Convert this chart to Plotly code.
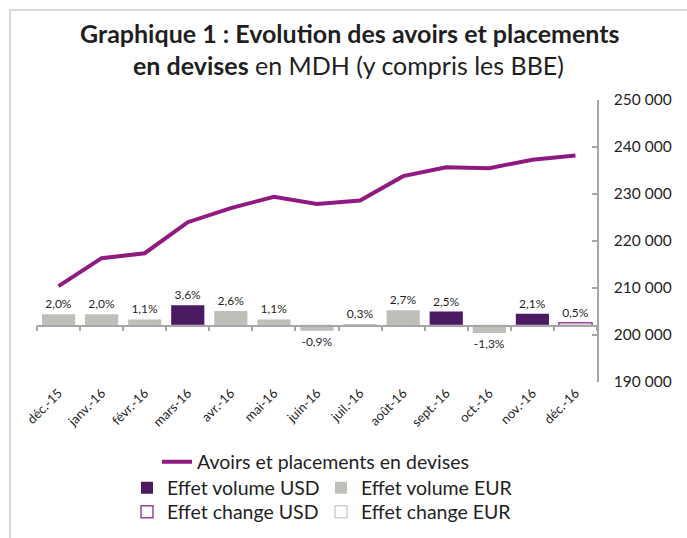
import plotly.graph_objects as go

categories = ["déc.-15", "janv.-16", "févr.-16", "mars-16", "avr.-16", "mai-16", "juin-16",
              "juil.-16", "août-16", "sept.-16", "oct.-16", "nov.-16", "déc.-16"]
avoirs = [210400, 216350, 217400, 224000, 227000, 229400, 227900,
          228600, 233800, 235700, 235500, 237300, 238200]
volume_usd = [None, None, None, 3.6, None, None, None, None, None, 2.5, None, 2.1, None]
volume_eur = [2.0, 2.0, 1.1, None, 2.6, 1.1, -0.9, 0.3, 2.7, None, -1.3, None, None]
change_usd = [None, None, None, None, None, None, None, None, None, None, None, None, 0.5]
change_eur = [None] * 13
y_ticks = [190000, 200000, 210000, 220000, 230000, 240000, 250000]

W, H = 687, 538
L, R, T, B = 37, 597, 100, 382
def px_x(x):
    return (x - L) / (R - L)
def px_y(y):
    return (B - y) / (B - T)

def fmt(vals):
    return ["" if v is None else (f"{v:.1f}".replace(".", ",") + "%") for v in vals]

FONT = "Lato"
TXT = "#1f1f1f"
LINE_C = "#911A80"
USD_C = "#4B1A63"
EUR_C = "#BFBEB8"

fig = go.Figure()
fig.add_trace(go.Scatter(x=categories, y=avoirs, mode="lines", name="Avoirs et placements en devises",
                         line=dict(color=LINE_C, width=4), xaxis="x", yaxis="y", legend="legend",
                         showlegend=True))

bar_common = dict(xaxis="x2", yaxis="y2", textposition="outside", cliponaxis=False,
                  constraintext="none", textfont=dict(size=12, color=TXT, family=FONT), showlegend=True)
fig.add_trace(go.Bar(x=categories, y=volume_usd, name="Effet volume USD", text=fmt(volume_usd),
                     marker=dict(color=USD_C, line=dict(width=0)), legend="legend2", **bar_common))
fig.add_trace(go.Bar(x=categories, y=volume_eur, name="Effet volume EUR", text=fmt(volume_eur),
                     marker=dict(color=EUR_C, line=dict(width=0)), legend="legend2", **bar_common))
fig.add_trace(go.Bar(x=categories, y=change_usd, name="Effet change USD", text=fmt(change_usd),
                     marker=dict(color="rgba(0,0,0,0)", line=dict(color="#A0409A", width=1.5)),
                     legend="legend3", **bar_common))
fig.add_trace(go.Bar(x=categories, y=[0 if v is None else v for v in change_eur], name="Effet change EUR",
                     text=fmt(change_eur),
                     marker=dict(color="rgba(0,0,0,0)", line=dict(color="#D0D0D0", width=1.5)),
                     legend="legend3", **bar_common))

legend_font = dict(size=19.5, color=TXT, family=FONT)
fig.update_layout(
    template="none",
    width=W, height=H,
    margin=dict(l=L, r=W - R, t=T, b=H - B, autoexpand=False),
    paper_bgcolor="white", plot_bgcolor="white",
    separators=", ",
    showlegend=True,
    barmode="overlay", bargap=0.23,
    font=dict(family=FONT, color=TXT),
    xaxis=dict(type="category", categoryorder="array", categoryarray=categories,
               range=[-0.5, len(categories) - 0.5], showline=False, showgrid=False, zeroline=False,
               ticks="", tickangle=-45, tickfont=dict(size=13, color=TXT), automargin=False),
    xaxis2=dict(type="category", categoryorder="array", categoryarray=categories, overlaying="x",
                range=[-0.5, len(categories) - 0.5], anchor="free", position=0.2,
                showline=True, linecolor="#A6A6A6", linewidth=1.5, ticks="outside", ticklen=5,
                tickcolor="#A6A6A6", tickwidth=1.5, tickson="boundaries", showticklabels=False,
                showgrid=False, zeroline=False, automargin=False),
    yaxis=dict(side="right", range=[190000, 250000], tickvals=y_ticks, tickformat=",d",
               showline=True, linecolor="#A6A6A6", linewidth=1.5, ticks="inside", ticklen=5,
               tickcolor="#A6A6A6", tickwidth=1.5, showgrid=False, zeroline=False,
               tickfont=dict(size=15.5, color=TXT), ticklabelstandoff=12, automargin=False),
    yaxis2=dict(overlaying="y", range=[-10, 40], visible=False, showgrid=False, zeroline=False),
    legend=dict(xref="container", yref="container", x=157 / W, y=1 - 462 / H, xanchor="left",
                yanchor="middle", orientation="h", font=legend_font, bgcolor="rgba(0,0,0,0)"),
    legend2=dict(xref="container", yref="container", x=127 / W, y=1 - 488 / H, xanchor="left",
                 yanchor="middle", orientation="h", entrywidth=149, entrywidthmode="pixels",
                 font=legend_font, bgcolor="rgba(0,0,0,0)"),
    legend3=dict(xref="container", yref="container", x=127 / W, y=1 - 512 / H, xanchor="left",
                 yanchor="middle", orientation="h", entrywidth=149, entrywidthmode="pixels",
                 font=legend_font, bgcolor="rgba(0,0,0,0)"),
    shapes=[dict(type="rect", xref="paper", yref="paper", x0=px_x(10), x1=px_x(720),
                 y0=px_y(600), y1=px_y(10), line=dict(color="#D9D9D9", width=2),
                 fillcolor="rgba(0,0,0,0)", layer="below")],
    annotations=[
        dict(xref="paper", yref="paper", x=px_x(350), y=px_y(33), xanchor="center", yanchor="middle",
             showarrow=False, text="<b>Graphique 1 : Evolution des avoirs et placements</b>",
             font=dict(size=25, color=TXT, family=FONT)),
        dict(xref="paper", yref="paper", x=px_x(348), y=px_y(65), xanchor="center", yanchor="middle",
             showarrow=False, text="<b>en devises</b> en MDH (y compris les BBE)",
             font=dict(size=25, color=TXT, family=FONT)),
    ],
)

fig.write_html("out.html", config={"displayModeBar": False},
               post_script="document.body.style.margin='0';document.body.style.overflow='hidden';")
